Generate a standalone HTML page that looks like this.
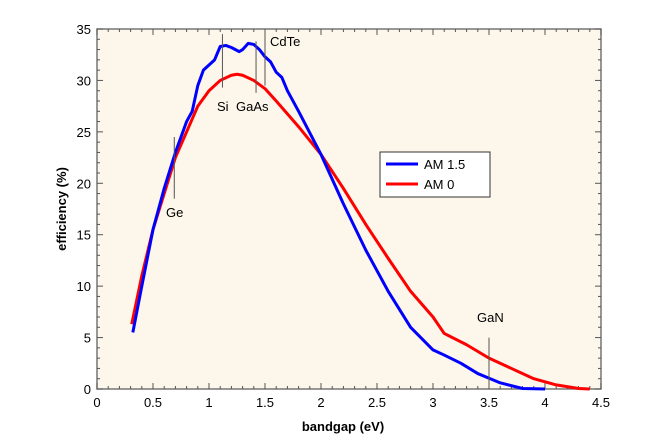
<!DOCTYPE html><html><head><style>body{margin:0;background:#fff}svg{display:block}text{font-family:"Liberation Sans",sans-serif;font-size:13px;fill:#000}</style></head><body>
<svg width="650" height="443" viewBox="0 0 650 443">
<rect x="97" y="29" width="504" height="360" fill="#fdf6ea" stroke="#777" stroke-width="1.5"/>
<g id="t" stroke="#555" stroke-width="1"></g>
<g id="l"></g>
<g transform="translate(97,389) scale(112,-10.2857)" fill="none" stroke-linejoin="round">
<polyline vector-effect="non-scaling-stroke" stroke="#f00" stroke-width="3" points="0.31,6.3 0.4,11 0.5,15.5 0.6,19 0.7,22.5 0.8,25 0.9,27.5 1.0,29 1.1,30 1.2,30.5 1.25,30.6 1.3,30.5 1.4,30 1.5,29.2 1.6,28 1.8,25.5 2.0,22.8 2.2,19.5 2.4,16 2.6,12.7 2.8,9.5 3.0,7 3.1,5.4 3.3,4.3 3.5,3 3.7,2 3.9,1 4.1,0.4 4.3,0.05 4.4,0"/>
<polyline vector-effect="non-scaling-stroke" stroke="#00f" stroke-width="3" points="0.32,5.5 0.4,10 0.5,15.5 0.6,19.5 0.7,23 0.8,26 0.85,27 0.9,29.5 0.95,31 1.0,31.5 1.05,32 1.1,33.3 1.15,33.4 1.2,33.2 1.27,32.8 1.3,33 1.35,33.6 1.4,33.5 1.45,33 1.5,32.3 1.55,31.8 1.6,30.8 1.65,30.3 1.7,29 1.8,27 2.0,22.8 2.2,18 2.4,13.5 2.6,9.5 2.8,6 3.0,3.8 3.1,3.3 3.25,2.5 3.4,1.5 3.6,0.6 3.8,0.05 4.0,0"/>
<g stroke="#555" stroke-width="1">
<line vector-effect="non-scaling-stroke" x1="0.69" y1="24.5" x2="0.69" y2="18.5"/>
<line vector-effect="non-scaling-stroke" x1="1.12" y1="34.5" x2="1.12" y2="29.3"/>
<line vector-effect="non-scaling-stroke" x1="1.42" y1="33.8" x2="1.42" y2="28.8"/>
<line vector-effect="non-scaling-stroke" x1="1.5" y1="34.5" x2="1.5" y2="29.5"/>
<line vector-effect="non-scaling-stroke" x1="3.5" y1="0" x2="3.5" y2="5"/>
</g></g>
<text x="166" y="217">Ge</text><text x="217" y="111">Si</text><text x="236" y="111">GaAs</text><text x="270" y="46">CdTe</text><text x="477" y="322">GaN</text>
<rect x="380" y="152" width="110" height="45" fill="#fff" stroke="#333"/>
<line x1="386" y1="164" x2="418" y2="164" stroke="#00f" stroke-width="3"/><text x="424" y="169">AM 1.5</text>
<line x1="386" y1="184" x2="418" y2="184" stroke="#f00" stroke-width="3"/><text x="424" y="189">AM 0</text>
<text x="343" y="431" text-anchor="middle" style="font-weight:bold">bandgap (eV)</text>
<text transform="translate(66,209) rotate(-90)" text-anchor="middle" style="font-weight:bold">efficiency (%)</text>
</svg>
<script>
var t=document.getElementById('t'),l=document.getElementById('l'),s='',u='';
for(var i=0;i<=45;i++){var x=97+i*504/45,L=i%5==0?6:3;s+='<line x1="'+x+'" y1="389" x2="'+x+'" y2="'+(389-L)+'"/><line x1="'+x+'" y1="29" x2="'+x+'" y2="'+(29+L)+'"/>';if(i%5==0)u+='<text x="'+x+'" y="407" text-anchor="middle">'+(i/10)+'</text>';}
for(var j=0;j<=35;j++){var y=389-j*360/35,L=j%5==0?6:3;s+='<line x1="97" y1="'+y+'" x2="'+(97+L)+'" y2="'+y+'"/><line x1="601" y1="'+y+'" x2="'+(601-L)+'" y2="'+y+'"/>';if(j%5==0)u+='<text x="91" y="'+(y+5)+'" text-anchor="end">'+j+'</text>';}
t.innerHTML=s;l.innerHTML=u;
</script>
</body></html>
